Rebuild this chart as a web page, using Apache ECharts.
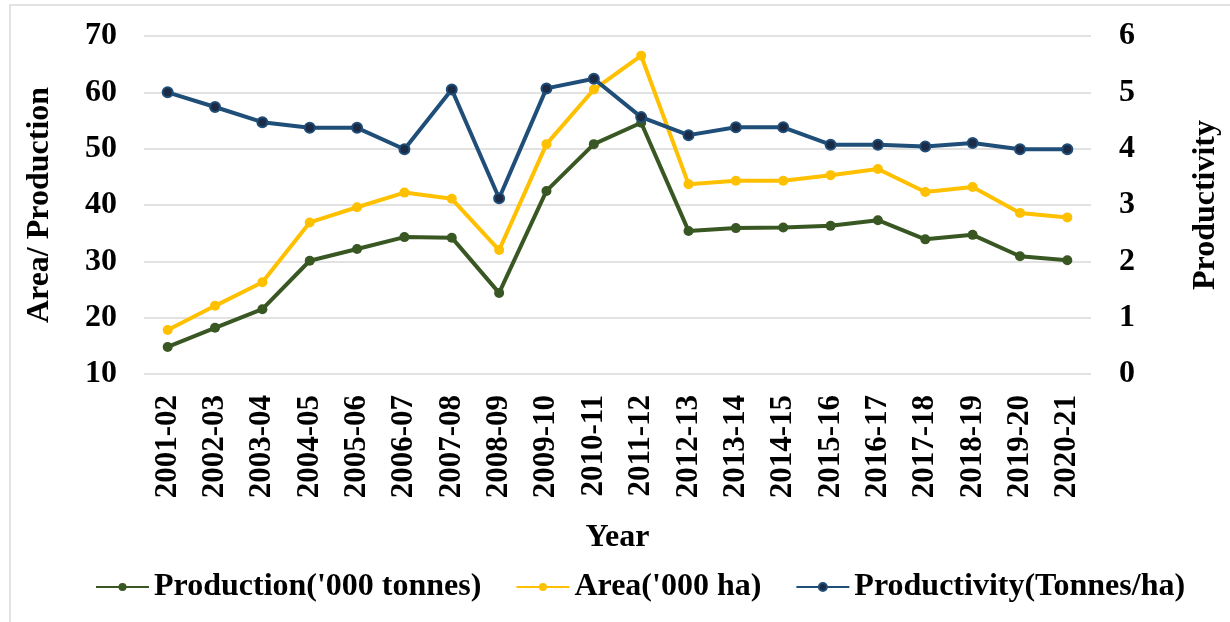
<!DOCTYPE html>
<html>
<head>
<meta charset="utf-8">
<script src="https://cdn.jsdelivr.net/npm/echarts@6/dist/echarts.min.js"></script>
<style>
  html, body { margin: 0; padding: 0; background: #fff; }
  #chart { width: 1230px; height: 622px; }
</style>
</head>
<body>
<div id="chart"></div>
<script>
var years = ['2001-02', '2002-03', '2003-04', '2004-05', '2005-06', '2006-07', '2007-08',
    '2008-09', '2009-10', '2010-11', '2011-12', '2012-13', '2013-14', '2014-15',
    '2015-16', '2016-17', '2017-18', '2018-19', '2019-20', '2020-21'];

// '000 tonnes
var production = [14.8, 18.2, 21.5, 30.1, 32.2, 34.3, 34.2, 24.4, 42.5, 50.8,
    54.6, 35.4, 35.9, 36.0, 36.3, 37.3, 33.9, 34.7, 30.9, 30.2];
// '000 ha
var area = [17.8, 22.1, 26.3, 36.9, 39.6, 42.2, 41.1, 32.0, 50.8, 60.5,
    66.5, 43.7, 44.3, 44.3, 45.3, 46.4, 42.3, 43.2, 38.6, 37.8];
// tonnes/ha
var productivity = [5.00, 4.74, 4.47, 4.37, 4.37, 3.99, 5.05, 3.12, 5.07, 5.24,
    4.56, 4.24, 4.38, 4.38, 4.07, 4.07, 4.04, 4.10, 3.99, 3.99];

var FONT = '"Liberation Serif", "Times New Roman", serif';

var chart = echarts.init(document.getElementById('chart'));

function boldText(size) {
    return { fontFamily: FONT, fontWeight: 'bold', fontSize: size, color: '#000' };
}

function lineSeries(name, data, color, yIdx, fill) {
    return {
        name: name,
        type: 'line',
        yAxisIndex: yIdx,
        data: data,
        symbol: 'circle',
        symbolSize: 10,
        lineStyle: { color: color, width: 4 },
        itemStyle: { color: fill || color, borderColor: color, borderWidth: fill ? 2 : 0 }
    };
}

var option = {
    backgroundColor: '#fff',
    animation: false,
    graphic: [{
        type: 'rect',
        shape: { x: 10, y: 5, width: 1240, height: 640 },
        style: { fill: null, stroke: '#d9d9d9', lineWidth: 1.5 },
        silent: true
    }],
    grid: { left: 144, right: 137, top: 36, bottom: 248 },
    legend: {
        top: 566,
        left: 90,
        itemWidth: 53,
        itemHeight: 10,
        itemGap: 34,
        textStyle: boldText(32),
        data: ["Production('000 tonnes)", "Area('000 ha)", 'Productivity(Tonnes/ha)']
    },
    xAxis: {
        type: 'category',
        data: years,
        name: 'Year',
        nameLocation: 'middle',
        nameGap: 148,
        nameTextStyle: boldText(32),
        axisLine: { show: false },
        axisTick: { show: false },
        axisLabel: Object.assign({ rotate: 90, margin: 21 }, boldText(31))
    },
    yAxis: [{
        type: 'value',
        min: 10, max: 70, interval: 10,
        name: 'Area/ Production',
        nameLocation: 'middle',
        nameGap: 88,
        nameRotate: 90,
        nameTextStyle: boldText(32),
        axisLabel: Object.assign({ margin: 27 }, boldText(32)),
        axisLine: { show: false },
        axisTick: { show: false },
        splitLine: { lineStyle: { color: '#d9d9d9', width: 1.5 } }
    }, {
        type: 'value',
        min: 0, max: 6, interval: 1,
        name: 'Productivity',
        nameLocation: 'middle',
        nameGap: 99,
        nameRotate: 90,
        nameTextStyle: boldText(32),
        axisLabel: Object.assign({ margin: 28 }, boldText(32)),
        axisLine: { show: false },
        axisTick: { show: false },
        splitLine: { show: false }
    }],
    series: [
        lineSeries("Production('000 tonnes)", production, '#385723', 0),
        lineSeries("Area('000 ha)", area, '#ffc000', 0),
        lineSeries('Productivity(Tonnes/ha)', productivity, '#1f4e79', 1, '#1c2b45')
    ]
};

chart.setOption(option);
</script>
</body>
</html>
